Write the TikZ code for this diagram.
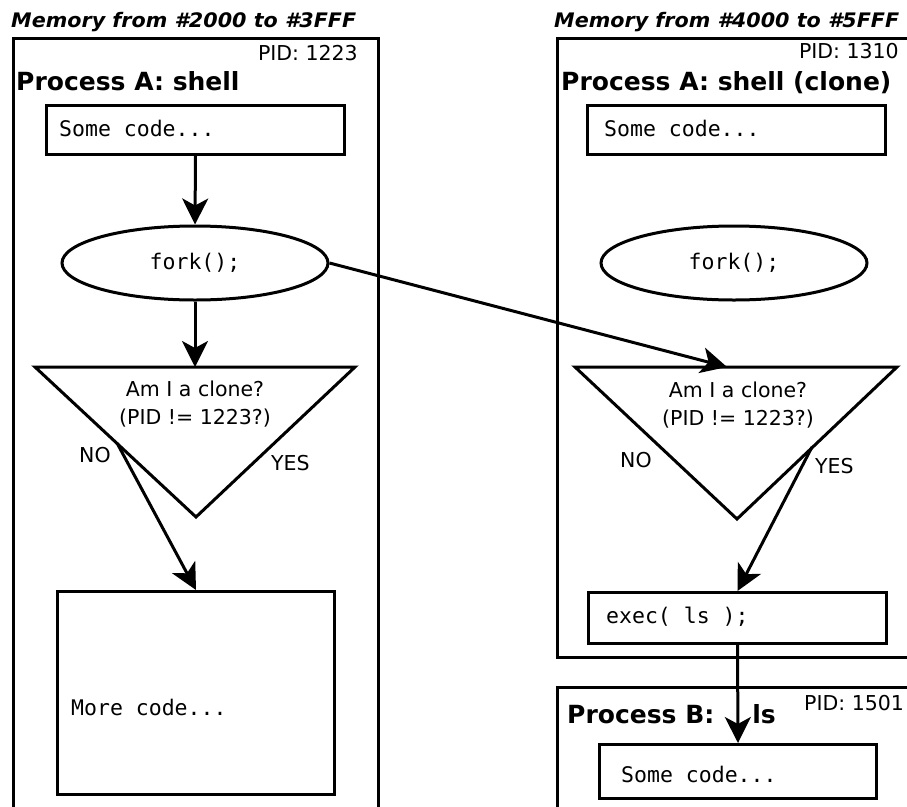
\documentclass[tikz,border=0pt]{standalone}
\usepackage{fontspec}
\setmainfont{DejaVu Sans}
\setmonofont{DejaVu Sans Mono}
\usetikzlibrary{arrows.meta,shapes.geometric}
\newcommand\cdfont{\ttfamily\fontsize{21.5}{26}\selectfont}
\newcommand\txtfont{\fontsize{20.5}{25}\selectfont}
\newcommand\procfont{\bfseries\fontsize{25}{30}\selectfont}
\newcommand\memfont{\bfseries\itshape\fontsize{20}{24}\selectfont}
% memory range captions are set wide: stretch them to a fixed width
\newcommand\memtext[1]{\resizebox{345pt}{\height}{#1}}
\begin{document}
\begin{tikzpicture}[x=1pt,y=-1pt,
  frame/.style={line width=3pt},
  box/.style={draw,line width=3pt,rectangle,inner sep=0pt,anchor=north west},
  oval/.style={draw,line width=3pt,ellipse,inner sep=0pt,
    minimum width=266pt,minimum height=74pt,font=\cdfont},
  decision/.style={line width=3pt,line join=miter},
  flow/.style={line width=3pt,-{Stealth[length=26pt,width=26pt,inset=7pt]}},
  lbl/.style={inner sep=0pt,anchor=base west,font=\txtfont},
  rlbl/.style={inner sep=0pt,anchor=base east,font=\txtfont},
  clbl/.style={inner sep=0pt,anchor=base,font=\txtfont},
  code/.style={inner sep=0pt,anchor=base west,font=\cdfont},
  proc/.style={inner sep=0pt,anchor=base west,font=\procfont},
  mem/.style={inner sep=0pt,anchor=base west,font=\memfont}]
\useasboundingbox (0,0) rectangle (907,806);
\clip (0,0) rectangle (907,806);

% ---------- left memory region: original shell ----------
\node[mem] (memL) at (11,27) {\memtext{Memory from \#2000 to \#3FFF}};
\draw[frame] (13,830) -- (13,38) -- (378,38) -- (378,830);
\node[rlbl] (pidL) at (358,60) {PID: 1223};
\node[proc] (procL) at (16,90) {Process A: shell};

\node[box,minimum width=298pt,minimum height=49pt] (codeL) at (45,104) {};
\node[code] (codeLt) at (59,136) {Some code...};

\node[oval] (forkL) at (195,263) {fork();};

\coordinate (triLa) at (35,367);
\coordinate (triLb) at (355,367);
\coordinate (triLc) at (196,517);
\coordinate (topL) at (195,367);
\coordinate (noL) at (117,443);
\draw[decision] (triLa) -- (triLb) -- (triLc) -- cycle;
\node[clbl] (askL1) at (195,396) {Am I a clone?};
\node[clbl] (askL2) at (195,424) {(PID != 1223?)};
\node[lbl] (noLt) at (79,462) {NO};
\node[lbl] (yesLt) at (271,470) {YES};

\node[box,minimum width=277pt,minimum height=203pt] (moreL) at (56,590) {};
\node[code] (moreLt) at (71,715) {More code...};

% ---------- right memory region: the clone ----------
\node[mem] (memR) at (554,27) {\memtext{Memory from \#4000 to \#5FFF}};
\draw[frame] (930,38) -- (557,38) -- (557,657) -- (930,657);
\node[rlbl] (pidR) at (899,58) {PID: 1310};
\node[proc] (procR) at (561,90) {Process A: shell (clone)};

\node[box,minimum width=298pt,minimum height=49pt] (codeR) at (586,104) {};
\node[code] (codeRt) at (604,136) {Some code...};

\node[oval] (forkR) at (734,263) {fork();};

\coordinate (triRa) at (575,367);
\coordinate (triRb) at (897,367);
\coordinate (triRc) at (737,519);
\coordinate (topR) at (727,367);
\coordinate (yesR) at (812,447);
\draw[decision] (triRa) -- (triRb) -- (triRc) -- cycle;
\node[clbl] (askR1) at (738,397) {Am I a clone?};
\node[clbl] (askR2) at (738,425) {(PID != 1223?)};
\node[lbl] (noRt) at (620,467) {NO};
\node[lbl] (yesRt) at (815,473) {YES};

\node[box,minimum width=298pt,minimum height=51pt] (execR) at (587,591) {};
\node[code] (execRt) at (606,623) {exec( ls );};

% ---------- new process image ----------
\draw[frame] (930,687) -- (557,687) -- (557,830);
\node[proc] (procB) at (567,723) {Process B:\hspace{38pt}ls};
\node[lbl] (pidB) at (804,710) {PID: 1501};
\node[box,minimum width=277pt,minimum height=54pt] (codeB) at (598,743) {};
\node[code] (codeBt) at (621,782) {Some code...};

% ---------- control flow ----------
\draw[flow] (codeL.south) -- (forkL.north);
\draw[flow] (forkL.south) -- (topL);
\draw[flow] (noL) -- (moreL.north);
\draw[flow] (forkL.east) -- (topR);
\draw[flow] (yesR) -- (execR.north);
\draw[flow] (execR.south) -- (codeB.north);
\end{tikzpicture}
\end{document}
